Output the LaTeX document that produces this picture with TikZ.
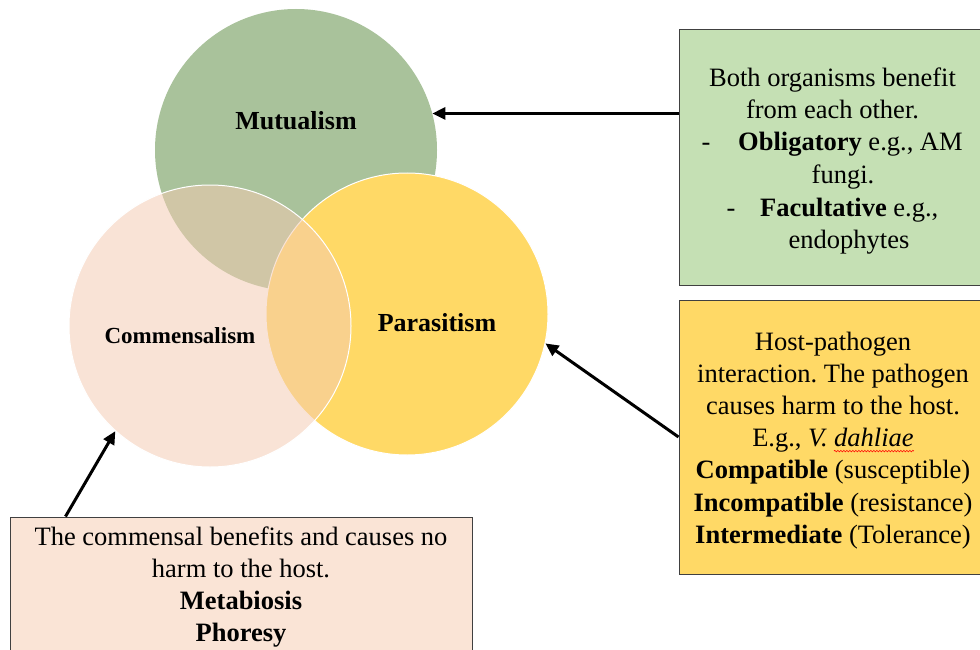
\documentclass[tikz,border=0pt]{standalone}
\usepackage{fontspec}
\setmainfont{Liberation Serif}
\usetikzlibrary{arrows.meta,decorations.pathmorphing}
\definecolor{mutc}{RGB}{169,194,155}
\definecolor{parc}{RGB}{255,217,102}
\definecolor{comc}{RGB}{244,202,177}
\definecolor{gboxc}{RGB}{197,224,180}
\definecolor{yboxc}{RGB}{255,217,102}
\definecolor{pboxc}{RGB}{250,228,214}
\definecolor{bordc}{RGB}{64,64,64}
\frenchspacing
\begin{document}
\begin{tikzpicture}[x=1pt,y=-1pt,
  venn/.style={circle, inner sep=0pt, minimum size=282pt},
  infobox/.style={rectangle, draw=bordc, line width=1pt, inner sep=0pt},
  body/.style={font=\fontsize{26.5}{32}\selectfont, inner sep=0pt, anchor=base},
  lbl/.style={font=\bfseries\fontsize{26}{30}\selectfont, inner sep=0pt, anchor=base},
  arr/.style={line width=3pt, -{Triangle[length=13pt,width=12pt]}},
]
\useasboundingbox (0,0) rectangle (980,650);
\clip (0,0) rectangle (980,650);
\fill[white] (0,0) rectangle (980,650);

% Venn circles
\node[venn, fill=mutc] (mut) at (296,150) {};
\node[venn, fill=parc, draw=white, line width=1pt] (par) at (407,314) {};
\node[venn, fill=comc, fill opacity=0.52, draw=white, line width=1pt] (com) at (210,326) {};

\node[lbl] (mutl) at (296,130) {Mutualism};
\node[lbl, font=\bfseries\fontsize{23}{27}\selectfont] (coml) at (180,343) {Commensalism};
\node[lbl] (parl) at (437,331) {Parasitism};

% boxes
\node[infobox, fill=gboxc, minimum width=307pt, minimum height=255pt] (gbox) at (832.5,157.5) {};
\node[infobox, fill=yboxc, minimum width=307pt, minimum height=274pt] (ybox) at (832.5,437) {};
\node[infobox, fill=pboxc, minimum width=462pt, minimum height=150pt] (pbox) at (241,592) {};

% green box text
\node[body] (g1) at (832.5,86.5) {Both organisms benefit};
\node[body] (g2) at (832.5,119) {from each other.};
\node[body] (g3d) at (706,151) {-};
\node[body, anchor=base west] (g3) at (738,151) {\textbf{Obligatory} e.g., AM};
\node[body] (g4) at (843,183.5) {fungi.};
\node[body] (g5d) at (731,216) {-};
\node[body, anchor=base west] (g5) at (760,216) {\textbf{Facultative} e.g.,};
\node[body] (g6) at (849,248) {endophytes};

% yellow box text
\node[body] (y1) at (833,350) {Host-pathogen};
\node[body] (y2) at (833,382.2) {interaction. The pathogen};
\node[body] (y3) at (833,414.4) {causes harm to the host.};
\node[body] (y4) at (833,446.6) {E.g., \textit{V. dahliae}};
\node[body] (y5) at (833,478.8) {\textbf{Compatible} (susceptible)};
\node[body] (y6) at (833,511) {\textbf{Incompatible} (resistance)};
\node[body] (y7) at (833,543.2) {\textbf{Intermediate} (Tolerance)};
\draw[red, line width=0.6pt, decorate, decoration={snake, amplitude=0.8pt, segment length=3pt}]
  ([xshift=-80pt,yshift=-4.5pt]y4.base east) -- ([yshift=-4.5pt]y4.base east);

% peach box text
\node[body] (p1) at (241,545.5) {The commensal benefits and causes no};
\node[body] (p2) at (241,577.5) {harm to the host.};
\node[body] (p3) at (241,609.5) {\textbf{Metabiosis}};
\node[body] (p4) at (241,641.5) {\textbf{Phoresy}};

% arrows
\draw[arr] (mut.15.7 -| gbox.west) -- (mut.15.7);
\draw[arr] (ybox.west) -- (par.-12.9);
\draw[arr] ([xshift=56pt]pbox.north west) -- (com.228.3);
\end{tikzpicture}
\end{document}
